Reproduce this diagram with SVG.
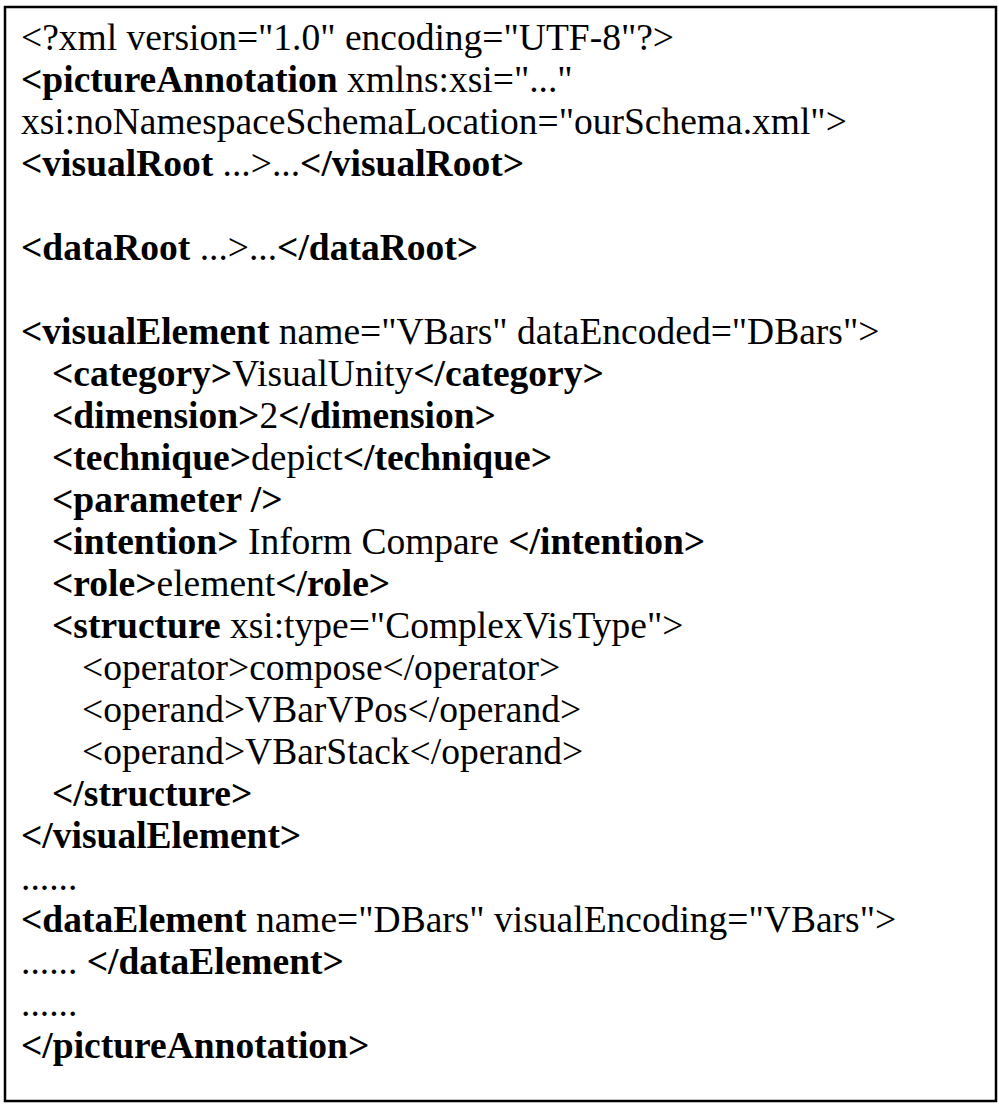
<svg xmlns="http://www.w3.org/2000/svg" width="999" height="1104" viewBox="0 0 999 1104">
<style>
text{font-family:"Liberation Serif","Times New Roman",serif;font-size:37.5px;fill:#000;white-space:pre}
.b{font-weight:bold}
</style>
<rect x="0" y="0" width="999" height="1104" fill="#fff"/>
<rect x="5" y="7" width="991" height="1094" fill="none" stroke="#000" stroke-width="2.5"/>
<g id="listing">
<text x="21" y="50">&lt;?xml version="1.0" encoding="UTF-8"?&gt;</text>
<text x="21" y="92"><tspan class="b">&lt;pictureAnnotation</tspan> xmlns:xsi="..."</text>
<text x="21" y="134">xsi:noNamespaceSchemaLocation="ourSchema.xml"&gt;</text>
<text x="21" y="176"><tspan class="b">&lt;visualRoot</tspan> ...&gt;...<tspan class="b">&lt;/visualRoot&gt;</tspan></text>
<text x="21" y="260"><tspan class="b">&lt;dataRoot</tspan> ...&gt;...<tspan class="b">&lt;/dataRoot&gt;</tspan></text>
<text x="21" y="344"><tspan class="b">&lt;visualElement</tspan> name="VBars" dataEncoded="DBars"&gt;</text>
<text x="52" y="386"><tspan class="b">&lt;category&gt;</tspan>VisualUnity<tspan class="b">&lt;/category&gt;</tspan></text>
<text x="52" y="428"><tspan class="b">&lt;dimension&gt;</tspan>2<tspan class="b">&lt;/dimension&gt;</tspan></text>
<text x="52" y="470"><tspan class="b">&lt;technique&gt;</tspan>depict<tspan class="b">&lt;/technique&gt;</tspan></text>
<text x="52" y="512"><tspan class="b">&lt;parameter /&gt;</tspan></text>
<text x="52" y="554"><tspan class="b">&lt;intention&gt;</tspan> Inform Compare <tspan class="b">&lt;/intention&gt;</tspan></text>
<text x="52" y="596"><tspan class="b">&lt;role&gt;</tspan>element<tspan class="b">&lt;/role&gt;</tspan></text>
<text x="52" y="638"><tspan class="b">&lt;structure</tspan> xsi:type="ComplexVisType"&gt;</text>
<text x="82" y="680">&lt;operator&gt;compose&lt;/operator&gt;</text>
<text x="82" y="722">&lt;operand&gt;VBarVPos&lt;/operand&gt;</text>
<text x="82" y="764">&lt;operand&gt;VBarStack&lt;/operand&gt;</text>
<text x="52" y="806" class="b">&lt;/structure&gt;</text>
<text x="21" y="848" class="b">&lt;/visualElement&gt;</text>
<text x="21" y="890">......</text>
<text x="21" y="932"><tspan class="b">&lt;dataElement</tspan> name="DBars" visualEncoding="VBars"&gt;</text>
<text x="21" y="974">...... <tspan class="b">&lt;/dataElement&gt;</tspan></text>
<text x="21" y="1016">......</text>
<text x="21" y="1058" class="b">&lt;/pictureAnnotation&gt;</text>
</g>
</svg>
